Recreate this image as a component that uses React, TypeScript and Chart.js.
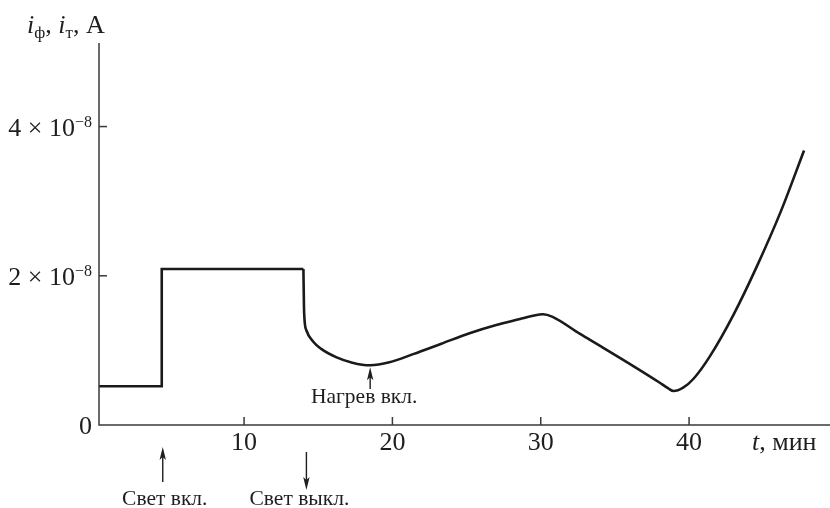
import React, { useEffect, useRef } from "react";
import { Chart, registerables } from "chart.js";

Chart.register(...registerables);

// Step part (light on / off), time in minutes, current in A
const stepTimes = [0.22, 4.45, 4.45, 14.0];
const stepCurrent = [0.52e-8, 0.52e-8, 2.09e-8, 2.09e-8];

// Smooth part after light off (heating on at ~18.5 min)
const curveTimes = [
  14.0, 14.05, 14.2, 14.65, 15.2, 16.2, 17.3, 18.5, 19.8, 21.4, 23.3, 25.2, 27.0,
  28.6, 29.4, 30.15, 30.8, 32.65, 34.0, 36.24, 38.0, 38.6, 38.95, 39.6, 40.3,
  41.4, 43.0, 44.6, 46.2, 47.75,
];
const curveCurrent = [
  2.09e-8, 1.5e-8, 1.27e-8, 1.12e-8, 1.02e-8, 0.91e-8, 0.835e-8, 0.8e-8, 0.84e-8,
  0.95e-8, 1.09e-8, 1.23e-8, 1.34e-8, 1.42e-8, 1.46e-8, 1.485e-8, 1.45e-8, 1.22e-8,
  1.06e-8, 0.79e-8, 0.57e-8, 0.49e-8, 0.455e-8, 0.5e-8, 0.62e-8, 0.92e-8, 1.48e-8,
  2.14e-8, 2.87e-8, 3.68e-8,
];

const xTicks = [10, 20, 30, 40];
const yTickValues = [0, 2e-8, 4e-8];
const yTickMantissa = ["0", "2 × 10", "4 × 10"];
const yTickExponent = ["", "−8", "−8"];

const eventTimes = [4.45, 14.0, 18.5];
const eventLabels = ["Свет вкл.", "Свет выкл.", "Нагрев вкл."];

const X_MIN = 0.22;
const X_MAX = 49.5;
const Y_MIN = 0;
const Y_MAX = 5.12e-8;

const FONT = "'Liberation Serif', 'Times New Roman', serif";

function arrow(ctx: CanvasRenderingContext2D, x: number, yFrom: number, yTip: number) {
  const dir = yTip < yFrom ? -1 : 1;
  ctx.beginPath();
  ctx.moveTo(x, yFrom);
  ctx.lineTo(x, yTip - dir * 8);
  ctx.stroke();
  ctx.beginPath();
  ctx.moveTo(x, yTip);
  ctx.lineTo(x - 3.2, yTip - dir * 13);
  ctx.lineTo(x, yTip - dir * 10);
  ctx.lineTo(x + 3.2, yTip - dir * 13);
  ctx.closePath();
  ctx.fill();
}

const decorPlugin = {
  id: "decor",
  afterDraw(chart: any) {
    const { ctx, chartArea } = chart;
    const xs = chart.scales.x;
    const ys = chart.scales.y;
    const left = chartArea.left;
    const bottom = chartArea.bottom;
    ctx.save();
    ctx.strokeStyle = "#3a3a3a";
    ctx.fillStyle = "#1e1e1e";
    ctx.lineWidth = 1.5;
    // axes
    ctx.beginPath();
    ctx.moveTo(left, chartArea.top);
    ctx.lineTo(left, bottom);
    ctx.lineTo(chartArea.right, bottom);
    ctx.stroke();

    // x ticks
    ctx.font = `26px ${FONT}`;
    ctx.textAlign = "center";
    ctx.textBaseline = "alphabetic";
    xTicks.forEach((t) => {
      const px = xs.getPixelForValue(t);
      ctx.beginPath();
      ctx.moveTo(px, bottom);
      ctx.lineTo(px, bottom - 8);
      ctx.stroke();
      ctx.fillText(String(t), px, bottom + 25);
    });

    // y ticks
    yTickValues.forEach((v, i) => {
      const py = ys.getPixelForValue(v);
      if (v !== 0) {
        ctx.beginPath();
        ctx.moveTo(left, py);
        ctx.lineTo(left + 8, py);
        ctx.stroke();
      }
      const rightEdge = 92;
      ctx.textAlign = "left";
      ctx.font = `26px ${FONT}`;
      const mw = ctx.measureText(yTickMantissa[i]).width;
      ctx.font = `16px ${FONT}`;
      const ew = yTickExponent[i] ? ctx.measureText(yTickExponent[i]).width : 0;
      const sx = rightEdge - mw - ew;
      ctx.font = `26px ${FONT}`;
      ctx.fillText(yTickMantissa[i], sx, py + 9);
      if (yTickExponent[i]) {
        ctx.font = `16px ${FONT}`;
        ctx.fillText(yTickExponent[i], sx + mw, py + 0.5);
      }
    });

    // y title: i_ф, i_т, A
    let tx = 27;
    const tb = 33;
    const seg = (text: string, font: string, dy = 0) => {
      ctx.font = font;
      ctx.fillText(text, tx, tb + dy);
      tx += ctx.measureText(text).width;
    };
    ctx.textAlign = "left";
    seg("i", `italic 26px ${FONT}`);
    seg("ф", `17px ${FONT}`, 5);
    seg(", ", `26px ${FONT}`);
    seg("i", `italic 26px ${FONT}`);
    seg("т", `17px ${FONT}`, 5);
    seg(", A", `26px ${FONT}`);

    // x title: t, мин
    tx = 752;
    const xb = bottom + 25;
    ctx.font = `italic 26px ${FONT}`;
    ctx.fillText("t", tx, xb);
    tx += ctx.measureText("t").width;
    ctx.font = `26px ${FONT}`;
    ctx.fillText(", мин", tx, xb);

    // event annotations
    ctx.lineWidth = 1.4;
    ctx.fillStyle = "#1e1e1e";
    ctx.strokeStyle = "#1e1e1e";
    ctx.font = `21.5px ${FONT}`;
    ctx.textAlign = "center";
    // light on: up arrow under axis
    const p0 = xs.getPixelForValue(eventTimes[0]);
    arrow(ctx, p0 + 1, 482, 447);
    ctx.fillText(eventLabels[0], p0 + 3, 505);
    // light off: down arrow under axis
    const p1 = xs.getPixelForValue(eventTimes[1]);
    arrow(ctx, p1 + 3, 452, 490);
    ctx.fillText(eventLabels[1], p1 - 4, 505);
    // heating on: up arrow to the curve minimum
    const p2 = xs.getPixelForValue(eventTimes[2]);
    const tipY = ys.getPixelForValue(0.8e-8) + 2;
    arrow(ctx, p2, 389, tipY);
    ctx.fillText(eventLabels[2], p2 - 6, 403);
    ctx.restore();
  },
};

export default function App() {
  const ref = useRef<HTMLCanvasElement | null>(null);
  useEffect(() => {
    if (!ref.current) return;
    const chart = new Chart(ref.current, {
      type: "scatter",
      data: {
        datasets: [
          {
            data: stepTimes.map((t, i) => ({ x: t, y: stepCurrent[i] })),
            showLine: true,
            borderColor: "#1a1a1a",
            borderWidth: 2.6,
            pointRadius: 0,
            tension: 0,
            borderJoinStyle: "miter",
          } as any,
          {
            data: curveTimes.map((t, i) => ({ x: t, y: curveCurrent[i] })),
            showLine: true,
            borderColor: "#1a1a1a",
            borderWidth: 2.6,
            pointRadius: 0,
            cubicInterpolationMode: "monotone",
          } as any,
        ],
      },
      options: {
        responsive: false,
        animation: false,
        devicePixelRatio: 1,
        layout: { padding: { left: 99, right: 0, top: 43, bottom: 83 } },
        plugins: { legend: { display: false }, tooltip: { enabled: false } },
        scales: {
          x: { type: "linear", min: X_MIN, max: X_MAX, display: false },
          y: { type: "linear", min: Y_MIN, max: Y_MAX, display: false },
        },
      },
      plugins: [decorPlugin],
    });
    return () => chart.destroy();
  }, []);
  return (
    <div style={{ position: "absolute", left: 0, top: 0, width: 830, height: 508, background: "#fff" }}>
      <canvas ref={ref} width={830} height={508} />
    </div>
  );
}
